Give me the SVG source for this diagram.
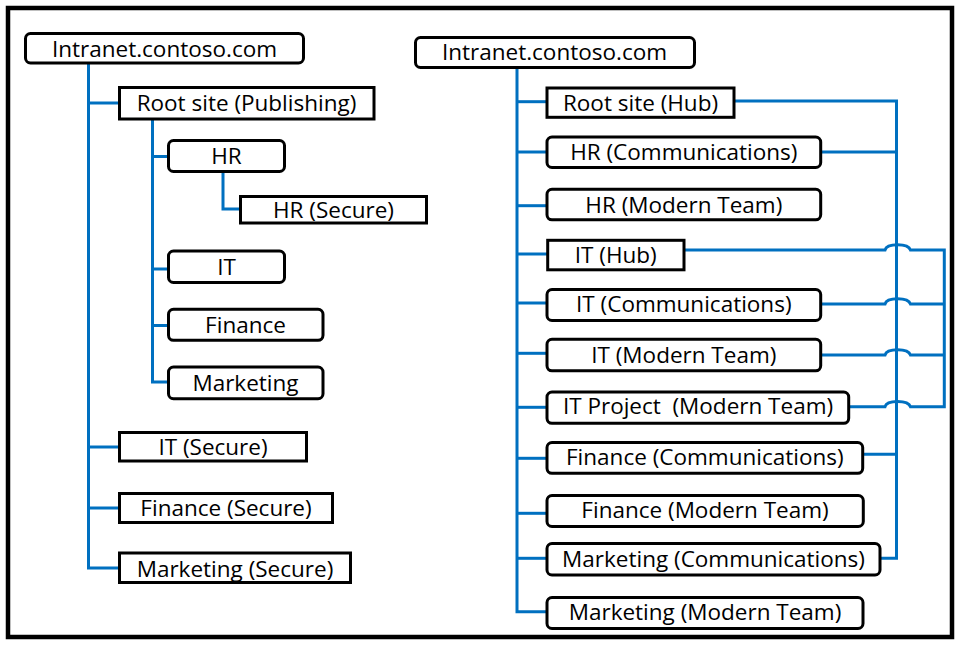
<svg xmlns="http://www.w3.org/2000/svg" width="960" height="645" viewBox="0 0 960 645">
<style>
.frame{fill:#fff;stroke:#000;stroke-width:4.5}
.box{fill:#fff;stroke:#000;stroke-width:3}
.t{font-family:"Open Sans","Noto Sans",sans-serif;font-size:22.5px;fill:#000;text-anchor:middle;white-space:pre}
.c{fill:none;stroke:#0070C0;stroke-width:3;stroke-linejoin:miter}
</style>
<rect class="frame" x="8" y="8" width="944" height="629"/>
<g id="connectors">
<!-- left tree -->
<path class="c" d="M88.5 63 V568 H119"/>
<path class="c" d="M88.5 103 H119"/>
<path class="c" d="M88.5 447 H119"/>
<path class="c" d="M88.5 508 H119"/>
<path class="c" d="M152.5 119 V382 H168"/>
<path class="c" d="M152.5 156.5 H168"/>
<path class="c" d="M152.5 269 H168"/>
<path class="c" d="M152.5 325.5 H168"/>
<path class="c" d="M223 172 V209 H240"/>
<!-- right tree -->
<path class="c" d="M517 67.7 V611.7 H547"/>
<path class="c" d="M517 101.7 H547"/>
<path class="c" d="M517 152 H547"/>
<path class="c" d="M517 205.7 H547"/>
<path class="c" d="M517 254 H547"/>
<path class="c" d="M517 303 H547"/>
<path class="c" d="M517 353.3 H547"/>
<path class="c" d="M517 407.3 H547"/>
<path class="c" d="M517 458.3 H547"/>
<path class="c" d="M517 513.3 H547"/>
<path class="c" d="M517 558.3 H547"/>
<!-- hub connections -->
<path class="c" d="M734.3 101 H896.5 V558.3 H880"/>
<path class="c" d="M821 152 H896.5"/>
<path class="c" d="M863 454.3 H896.5"/>
<!-- IT hub connections with hops -->
<path class="c" d="M684 250 H885 C887 243 908 243 910.5 250 H944.3 V406.7 H910.5 C908 399.7 887 399.7 885 406.7 H849"/>
<path class="c" d="M821 304 H885 C887 297 908 297 910.5 304 H944.3"/>
<path class="c" d="M821 355 H885 C887 348 908 348 910.5 355 H944.3"/>
</g>
<g id="n-intranet-left"><rect class="box" x="25.5" y="33.5" width="278" height="29.5" rx="5"/><text class="t" x="164.5" y="56.5">Intranet.contoso.com</text></g>
<g id="n-root-publishing"><rect class="box" x="119.5" y="87.5" width="254.5" height="31.5"/><text class="t" x="246.5" y="111">Root site (Publishing)</text></g>
<g id="n-hr"><rect class="box" x="168.5" y="140.5" width="116" height="31" rx="5"/><text class="t" x="226.5" y="164.3">HR</text></g>
<g id="n-hr-secure"><rect class="box" x="240.5" y="196.5" width="186" height="26.5"/><text class="t" x="333.5" y="218">HR (Secure)</text></g>
<g id="n-it"><rect class="box" x="168.5" y="251" width="116" height="31.5" rx="5"/><text class="t" x="226.5" y="274.5">IT</text></g>
<g id="n-finance"><rect class="box" x="168.5" y="309.3" width="154.5" height="31" rx="5"/><text class="t" x="245.5" y="332.5">Finance</text></g>
<g id="n-marketing"><rect class="box" x="168.5" y="367" width="154.5" height="31.7" rx="5"/><text class="t" x="245.5" y="390.7">Marketing</text></g>
<g id="n-it-secure"><rect class="box" x="119.5" y="432.5" width="187" height="28.5"/><text class="t" x="213" y="455">IT (Secure)</text></g>
<g id="n-finance-secure"><rect class="box" x="119.5" y="493.5" width="213" height="29"/><text class="t" x="226" y="515.7">Finance (Secure)</text></g>
<g id="n-marketing-secure"><rect class="box" x="119.5" y="553" width="231" height="29.5"/><text class="t" x="235" y="576.7">Marketing (Secure)</text></g>

<g id="n-intranet-right"><rect class="box" x="415.5" y="37.5" width="279" height="30" rx="5"/><text class="t" x="554.5" y="60">Intranet.contoso.com</text></g>
<g id="n-root-hub"><rect class="box" x="547" y="88" width="187" height="29.3"/><text class="t" x="640.5" y="111">Root site (Hub)</text></g>
<g id="n-hr-comm"><rect class="box" x="547" y="137" width="273.7" height="30.5" rx="5"/><text class="t" x="683.8" y="160">HR (Communications)</text></g>
<g id="n-hr-team"><rect class="box" x="547" y="189.3" width="273.7" height="30.5" rx="5"/><text class="t" x="683.8" y="213.3">HR (Modern Team)</text></g>
<g id="n-it-hub"><rect class="box" x="547.7" y="240.3" width="136.3" height="29.5"/><text class="t" x="615.8" y="263.3">IT (Hub)</text></g>
<g id="n-it-comm"><rect class="box" x="547" y="289.5" width="273.7" height="31" rx="5"/><text class="t" x="683.8" y="312">IT (Communications)</text></g>
<g id="n-it-team"><rect class="box" x="547" y="339.3" width="273.7" height="31.5" rx="5"/><text class="t" x="683.8" y="362.7">IT (Modern Team)</text></g>
<g id="n-it-project"><rect class="box" x="547" y="392" width="301.7" height="31.3" rx="5"/><text class="t" x="698" y="414.3" xml:space="preserve">IT Project  (Modern Team)</text></g>
<g id="n-finance-comm"><rect class="box" x="547" y="442.5" width="315.7" height="30.8" rx="5"/><text class="t" x="704.8" y="465">Finance (Communications)</text></g>
<g id="n-finance-team"><rect class="box" x="547" y="495.5" width="316.3" height="31" rx="5"/><text class="t" x="705" y="518.3">Finance (Modern Team)</text></g>
<g id="n-marketing-comm"><rect class="box" x="547" y="543.5" width="333" height="31.5" rx="5"/><text class="t" x="713.5" y="566.7">Marketing (Communications)</text></g>
<g id="n-marketing-team"><rect class="box" x="547" y="597.5" width="316" height="31" rx="5"/><text class="t" x="705" y="620">Marketing (Modern Team)</text></g>
</svg>
